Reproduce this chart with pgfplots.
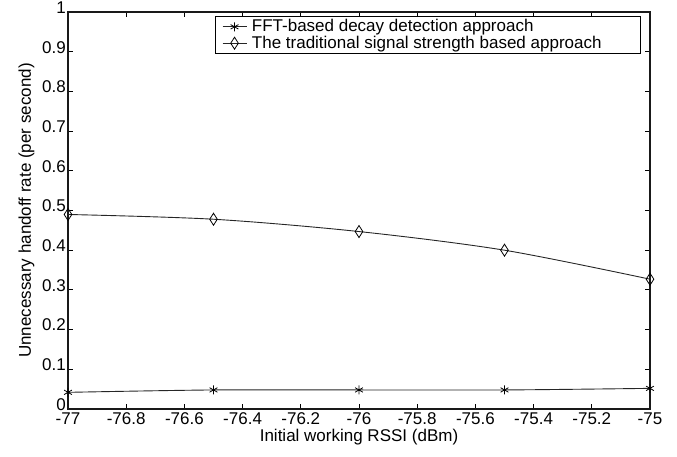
\documentclass[border=0pt]{standalone}
\usepackage{pgfplots}
\pgfplotsset{compat=1.18}
\usepackage{fontspec}
\setmainfont{Liberation Sans}
\begin{document}
\fontsize{17pt}{18pt}\selectfont
\begin{tikzpicture}
\useasboundingbox (-68pt,-47pt) rectangle (609pt,409pt);
\begin{axis}[
  at={(0,0)}, anchor=south west,
  scale only axis, width=582pt, height=397pt,
  xmin=-77, xmax=-75, ymin=0, ymax=1,
  xtick={-77,-76.8,...,-75.1,-75}, ytick={0,0.1,...,1.01},
  /pgf/number format/assume math mode=true,
  /pgf/number format/fixed, /pgf/number format/precision=1,
  tick align=inside, major tick length=5pt,
  axis line style={line width=1.2pt, black!90},
  every tick/.style={line width=0.9pt, black},
  xticklabel style={font=\fontsize{17pt}{18pt}\selectfont, inner xsep=1pt, inner ysep=0pt, yshift=-3.5pt},
  yticklabel style={font=\fontsize{17pt}{18pt}\selectfont, inner xsep=2pt, inner ysep=0pt, yshift=4.5pt},
  xlabel={Initial working RSSI (dBm)},
  ylabel={Unnecessary handoff rate (per second)},
  xlabel style={font=\fontsize{17pt}{18pt}\selectfont, yshift=1pt},
  ylabel style={font=\fontsize{17pt}{18pt}\selectfont, yshift=0pt},
  legend style={at={(rel axis cs:1,1)}, xshift=-9pt, yshift=-4pt, anchor=north east,
    font=\fontsize{17pt}{17pt}\selectfont, draw=black, line width=0.8pt,
    inner xsep=7pt, inner ysep=1pt, row sep=-2.5pt,
    legend cell align=left},
  legend image code/.code={
    \draw[#1, line width=0.8pt] (0pt,0pt) -- (24pt,0pt);
    \draw[#1, only marks] plot coordinates {(12pt,0pt)};},
]
\addplot[black!85, line width=0.9pt, smooth, mark=asterisk, mark size=4.5pt,
  mark options={black, line width=0.8pt}]
  coordinates {(-77,0.042) (-76.5,0.048) (-76,0.048) (-75.5,0.048) (-75,0.052)};
\addlegendentry{\hspace*{3pt}FFT-based decay detection approach}
\addplot[black!85, line width=0.9pt, smooth, mark=diamond, mark size=6pt,
  mark options={black, line width=0.8pt, xscale=0.85}]
  coordinates {(-77,0.490) (-76.5,0.478) (-76,0.447) (-75.5,0.400) (-75,0.327)};
\addlegendentry{\hspace*{3pt}The traditional signal strength based approach\rule{30pt}{0pt}}
\end{axis}
\end{tikzpicture}
\end{document}
